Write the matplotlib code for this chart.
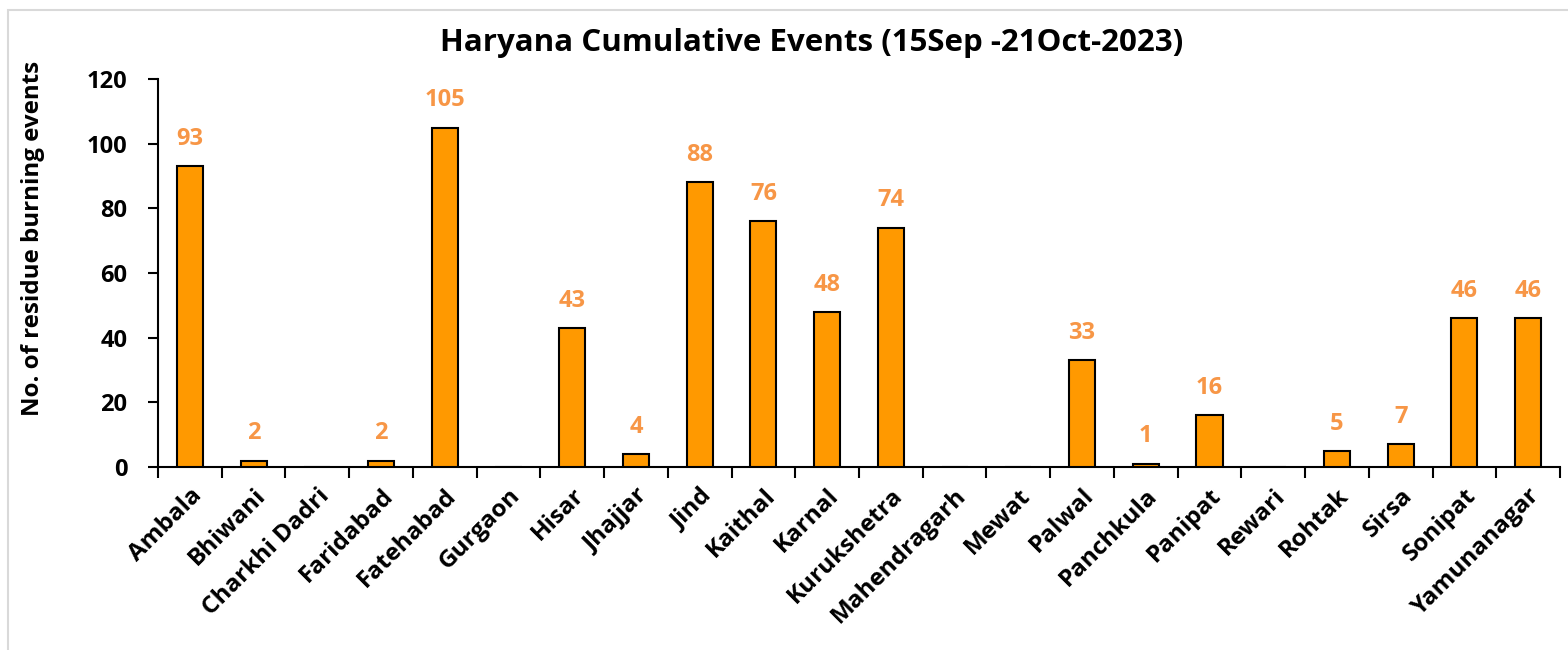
import matplotlib
matplotlib.use("Agg")
import matplotlib.pyplot as plt
from matplotlib.patches import Rectangle

districts = ["Ambala", "Bhiwani", "Charkhi Dadri", "Faridabad", "Fatehabad", "Gurgaon",
             "Hisar", "Jhajjar", "Jind", "Kaithal", "Karnal", "Kurukshetra", "Mahendragarh",
             "Mewat", "Palwal", "Panchkula", "Panipat", "Rewari", "Rohtak", "Sirsa",
             "Sonipat", "Yamunanagar"]
events = [93, 2, 0, 2, 105, 0, 43, 4, 88, 76, 48, 74, 0, 0, 33, 1, 16, 0, 5, 7, 46, 46]
yticks = [0, 20, 40, 60, 80, 100, 120]
title = "Haryana Cumulative Events (15Sep -21Oct-2023)"
ylabel = "No. of residue burning events"

plt.rcParams['font.family'] = ['Open Sans', 'DejaVu Sans']
plt.rcParams['font.weight'] = 'bold'

fig = plt.figure(figsize=(15.68, 6.5), dpi=100)
ax = fig.add_axes([158/1568, 1-467/650, (1560-158)/1568, (467-79)/650])

# figure border (top and left visible)
fig.patches.append(Rectangle((8/1568, -0.05), 1.2, 1 - 10/650 + 0.05,
                             transform=fig.transFigure, fill=False,
                             edgecolor='#d9d9d9', linewidth=1.5, zorder=0))

x = list(range(len(districts)))
bars = ax.bar(x, events, width=0.41, color='#FF9900', edgecolor='black', linewidth=1.5, zorder=3)

for xi, v in zip(x, events):
    if v > 0:
        ax.annotate(str(v), (xi, v), xytext=(0, 11), textcoords='offset points',
                    ha='center', va='bottom', color='#F79646', fontsize=17, fontweight='bold')

ax.set_xlim(-0.5, len(districts) - 0.5)
ax.set_ylim(0, 120)
ax.set_yticks(yticks)
ax.set_yticklabels([str(t) for t in yticks], fontsize=17, fontweight='bold')
ax.set_xticks([i - 0.5 for i in range(len(districts) + 1)], minor=False)
ax.set_xticklabels([])
ax.set_xticks(x, minor=True)
ax.set_xticklabels(districts, minor=True, rotation=45, ha='right', rotation_mode='anchor',
                   fontsize=17.5, fontweight='bold')
ax.tick_params(axis='x', which='minor', length=0, pad=12)
ax.tick_params(axis='x', which='major', direction='out', length=8, width=1.5)
ax.tick_params(axis='y', direction='out', length=7, width=1.5, pad=15)

for s in ['top', 'right']:
    ax.spines[s].set_visible(False)
for s in ['left', 'bottom']:
    ax.spines[s].set_linewidth(1.5)

fig.text(33/1568, 1-238/650, ylabel, rotation=90, ha='center', va='center',
         fontsize=17.4, fontweight='bold')
fig.text(812/1568, 1-43/650, title, ha='center', va='center', fontsize=22.5, fontweight='bold')

fig.savefig("out.png", dpi=100)
